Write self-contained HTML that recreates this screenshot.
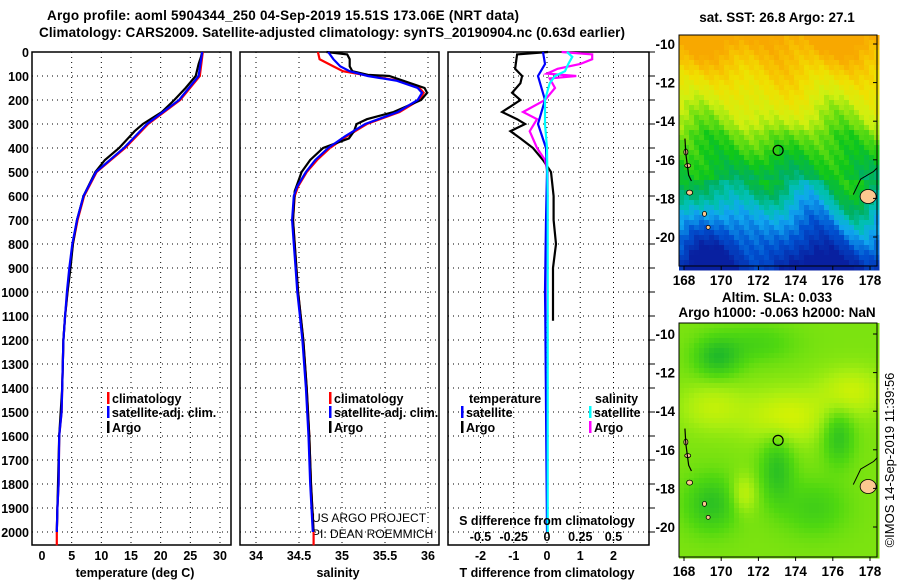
<!DOCTYPE html>
<html><head><meta charset="utf-8"><style>
html,body{margin:0;padding:0;background:#fff;}
svg{display:block;font-family:"Liberation Sans",Arial,sans-serif;}
.b{font-weight:bold;font-size:12.5px;}
.t{font-weight:bold;font-size:13.5px;}
</style></head><body>
<svg id="s" width="900" height="580" viewBox="0 0 900 580" xmlns="http://www.w3.org/2000/svg">
<text class="t" x="283" y="20" text-anchor="middle" textLength="472">Argo profile: aoml 5904344_250 04-Sep-2019 15.51S 173.06E (NRT data)</text>
<text class="t" x="332" y="37" text-anchor="middle" textLength="586">Climatology: CARS2009. Satellite-adjusted climatology: synTS_20190904.nc (0.63d earlier)</text>
<text class="t" x="777" y="22" text-anchor="middle">sat. SST: 26.8 Argo: 27.1</text>
<text class="t" x="777" y="302" text-anchor="middle">Altim. SLA: 0.033</text>
<text class="t" x="777" y="317" text-anchor="middle">Argo h1000: -0.063 h2000: NaN</text>
<text x="894" y="460" font-size="13" text-anchor="middle" transform="rotate(-90 894 460)">©IMOS 14-Sep-2019 11:39:56</text>
<text x="312" y="522" font-size="12">US ARGO PROJECT</text>
<text x="312" y="538" font-size="12">PI: DEAN ROEMMICH</text>
</svg>
<script>
// ---- data (depth in dbar) ----
const tClimDepth=[0,100,200,300,400,500,600,700,800,900,1000,1100,1200,1400,1500,1600,1800,1900,2000,2055];
const tClimVal=[27.1,26.6,23.3,17.9,14.0,9.2,7.1,6.0,5.2,4.7,4.3,3.9,3.6,3.4,3.3,2.9,2.8,2.6,2.5,2.5];
const tSatVal=[27.0,26.4,23.1,17.7,13.8,9.1,7.0,5.9,5.1,4.6,4.2,3.9,3.6,3.4,3.3,2.9,2.8,2.6,2.5,2.5];
const tArgoDepth=[0,20,50,100,150,200,250,300,330,400,450,500,600,700,800,900,1000,1100,1200,1400,1600,1800,2000];
const tArgoVal=[27.0,26.8,26.4,25.9,24.2,22.3,20.2,17.0,15.6,13.0,10.6,9.0,7.0,5.9,5.2,4.8,4.3,3.9,3.6,3.4,2.9,2.7,2.5];
const sClimDepth=[0,30,60,80,100,120,150,170,200,250,300,350,400,450,500,560,600,700,800,900,1000,1100,1200,1400,1600,1800,2000,2055];
const sClimVal=[34.72,34.74,34.9,35.01,35.33,35.67,35.9,35.95,35.9,35.67,35.29,35.06,34.86,34.71,34.59,34.49,34.45,34.43,34.45,34.47,34.49,34.52,34.55,34.59,34.62,34.64,34.67,34.67];
const sSatVal=[34.84,34.9,34.98,35.09,35.3,35.64,35.88,35.93,35.88,35.65,35.27,35.04,34.84,34.69,34.58,34.48,34.44,34.42,34.44,34.46,34.48,34.51,34.54,34.58,34.61,34.63,34.66,34.66];
const sArgoDepth=[0,10,30,60,80,95,100,150,170,200,250,280,300,330,360,400,450,500,580,700,900,1000,1100,1200,1400,1600,1800,2000];
const sArgoVal=[34.82,35.06,35.09,35.09,35.12,35.3,35.55,35.96,35.99,35.92,35.6,35.29,35.17,35.14,35.08,34.78,34.63,34.53,34.45,34.43,34.47,34.49,34.52,34.55,34.59,34.62,34.64,34.67];
const dTArgoDepth=[0,10,70,100,130,170,200,250,280,300,330,360,400,450,500,600,700,800,900,1000,1120];
const dTArgoVal=[0.03,-0.9,-0.96,-0.75,-0.8,-1.05,-0.8,-1.35,-0.9,-0.66,-1.1,-0.8,-0.42,-0.12,0.12,0.2,0.2,0.27,0.18,0.18,0.18];
const dTSatDepth=[0,50,100,200,300,400,500,700,1000,1100,2000];
const dTSatVal=[-0.12,-0.06,-0.27,-0.06,-0.27,-0.03,0.0,-0.03,-0.06,-0.05,0.0];
const dSArgoDepth=[0,10,30,50,70,90,100,110,150,200,250,280,330,400,450,500,1120];
const dSArgoVal=[0.11,0.34,0.34,0.25,0.08,0.0,0.22,0.02,0.06,-0.015,-0.18,-0.075,-0.13,-0.075,-0.015,0.005,0.0];
const dSSatDepth=[0,20,50,80,100,130,200,300,400,600,2000];
const dSSatVal=[0.15,0.19,0.16,0.135,0.06,0.02,-0.015,-0.015,0.0,0.005,0.005];
const depthTicks=[0,100,200,300,400,500,600,700,800,900,1000,1100,1200,1300,1400,1500,1600,1700,1800,1900,2000];
const tTicks=[0,5,10,15,20,25,30];
const sTicks=[34,34.5,35,35.5,36];
const dTTicks=[-2,-1,0,1,2];
const dSTicks=[-0.5,-0.25,0,0.25,0.5];
const lonTicks=[168,170,172,174,176,178];
const latTicks=[-10,-12,-14,-16,-18,-20];

const NS="http://www.w3.org/2000/svg";
const svg=document.getElementById('s');
function el(tag,attrs,parent,txt){const e=document.createElementNS(NS,tag);for(const k in attrs)e.setAttribute(k,attrs[k]);if(txt!==undefined)e.textContent=txt;(parent||svg).appendChild(e);return e;}
const TOP=52,BOT=545;
const yD=d=>TOP+d*0.24;
const xT=v=>42+v*5.933;
const xS=v=>256+(v-34)*86;
const xDT=v=>547+v*33.25;
const xDS=v=>547+v*133;

function panel(name,x0,x1,xTickVals,xFn){
  const g=el('g',{},svg);
  
  
  for(const d of depthTicks){if(d===0)continue;const l=el('line',{x1:x0,x2:x1,y1:yD(d),y2:yD(d),stroke:'#000','stroke-width':1,'stroke-dasharray':'1 4'},g);
    }
  for(const v of xTickVals){const X=xFn(v);const l=el('line',{x1:X,x2:X,y1:TOP,y2:BOT,stroke:'#000','stroke-width':1,'stroke-dasharray':'1 4'},g);
    }
  const r=el('rect',{x:x0,y:TOP,width:x1-x0,height:BOT-TOP,fill:'none',stroke:'#000','stroke-width':1.5},g);
  
  return g;
}
function line(g,name,depths,vals,xFn,color){
  const pts=depths.map((d,i)=>xFn(vals[i]).toFixed(1)+','+yD(d).toFixed(1)).join(' ');
  const p=el('polyline',{points:pts,fill:'none',stroke:color,'stroke-width':2.2},g);
  
}
function txt(s,x,y,cls,anchor,name){const t=el('text',{x:x,y:y,'class':cls,'text-anchor':anchor||'start'},svg,s);
  return t;}

const g1=panel('temperature-panel',32,231,tTicks.slice(1),xT);
line(g1,'temp-climatology-line',tClimDepth,tClimVal,xT,'#f00');
line(g1,'temp-argo-line',tArgoDepth,tArgoVal,xT,'#000');
line(g1,'temp-satellite-line',tClimDepth.slice(0,19),tSatVal.slice(0,19),xT,'#00f');
for(const d of depthTicks)txt(String(d),29,yD(d)+5,'b','end','depth-tick-label');
for(const v of tTicks)txt(String(v),xT(v),560,'b','middle','temp-tick-label');
txt('temperature (deg C)',135,577,'b','middle','temp-axis-title');

const g2=panel('salinity-panel',240,439,sTicks,xS);
line(g2,'sal-climatology-line',sClimDepth,sClimVal,xS,'#f00');
line(g2,'sal-argo-line',sArgoDepth,sArgoVal,xS,'#000');
line(g2,'sal-satellite-line',sClimDepth.slice(0,27),sSatVal.slice(0,27),xS,'#00f');
for(const v of sTicks)txt(String(v),xS(v),560,'b','middle','sal-tick-label');
txt('salinity',338,577,'b','middle','sal-axis-title');

const g3=panel('difference-panel',448,649,dTTicks,xDT);
line(g3,'dT-argo-line',dTArgoDepth,dTArgoVal,xDT,'#000');
line(g3,'dS-argo-line',dSArgoDepth,dSArgoVal,xDS,'#f0f');
line(g3,'dT-satellite-line',dTSatDepth,dTSatVal,xDT,'#00f');
line(g3,'dS-satellite-line',dSSatDepth,dSSatVal,xDS,'#0ff');
for(const d of depthTicks){const l=el('line',{x1:649,x2:655,y1:yD(d),y2:yD(d),stroke:'#000'},svg);}
for(const v of dTTicks)txt(String(v),xDT(v),560,'b','middle','dT-tick-label');
for(const v of dSTicks)txt(String(v),xDS(v),541,'b','middle','dS-tick-label');
txt('S difference from climatology',547,525,'b','middle','dS-axis-title');
txt('T difference from climatology',547,577,'b','middle','dT-axis-title');

function leg(x,y,c,label,name){const r=el('rect',{x:x,y:y-11,width:2.5,height:12,fill:c},svg);txt(label,x+5,y,'b','start',name);}
leg(107,403,'#f00','climatology','legend-climatology');
leg(107,417,'#00f','satellite-adj. clim.','legend-satellite');
leg(107,432,'#000','Argo','legend-argo');
leg(329,403,'#f00','climatology','legend-climatology-2');
leg(329,417,'#00f','satellite-adj. clim.','legend-satellite-2');
leg(329,432,'#000','Argo','legend-argo-2');
txt('temperature',469,403,'b','start','legend-temperature-header');
txt('salinity',595,403,'b','start','legend-salinity-header');
leg(461,417,'#00f','satellite','legend-t-satellite');
leg(461,432,'#000','Argo','legend-t-argo');
leg(589,417,'#0ff','satellite','legend-s-satellite');
leg(589,432,'#f0f','Argo','legend-s-argo');

// ---- maps ----
function lerp(a,b,t){return a+(b-a)*t;}
function hex(c){return [parseInt(c.slice(1,3),16),parseInt(c.slice(3,5),16),parseInt(c.slice(5,7),16)];}
function cmap(stops,v){v=Math.max(0,Math.min(1,v));for(let i=1;i<stops.length;i++){if(v<=stops[i][0]){const t=(v-stops[i-1][0])/(stops[i][0]-stops[i-1][0]);const a=hex(stops[i-1][1]),b=hex(stops[i][1]);return 'rgb('+Math.round(lerp(a[0],b[0],t))+','+Math.round(lerp(a[1],b[1],t))+','+Math.round(lerp(a[2],b[2],t))+')';}}return stops[stops.length-1][1];}
const sstStops=[[0,'#0820a0'],[0.14,'#0050d0'],[0.26,'#10a8f0'],[0.34,'#00c0b0'],[0.42,'#00b060'],[0.52,'#10c818'],[0.62,'#70e010'],[0.72,'#d0f010'],[0.84,'#f0e000'],[0.93,'#f8c000'],[1,'#f8a800']];
const slaStops=[[0,'#10b030'],[0.45,'#50d810'],[0.75,'#a8ee10'],[1,'#e0f400']];
function map(name,x0,y0,w,h,lat10y,lat20y,fieldFn,stops){
  const g=el('g',{},svg);
  const lx=lon=>684+(lon-168)*18.6;
  const ly=lat=>lat10y+(-10-lat)*(lat20y-lat10y)/10;
  const cs=5;
  for(let y=y0;y<y0+h;y+=cs)for(let x=x0;x<x0+w;x+=cs){
    const lon=168+(x+cs/2-684)/18.6, lat=-10-(y+cs/2-lat10y)*10/(lat20y-lat10y);
    el('rect',{x:x,y:y,width:cs+0.5,height:cs+0.5,fill:cmap(stops,fieldFn(lon,lat))},g);
  }
  const isl=[[168.1,-15.6,2,3],[168.2,-16.3,3,2],[168.3,-17.7,3,2.5],[169.1,-18.8,2,2.5],[169.3,-19.5,2,2],[177.9,-17.9,8,7]];
  for(const s of isl)el('ellipse',{cx:lx(s[0]),cy:ly(s[1]),rx:s[2],ry:s[3],fill:'#fcc890',stroke:'#000','stroke-width':0.8},g);
  el('polyline',{points:[[168.05,-14.9],[168.1,-15.7],[168.25,-16.8],[168.4,-17.1]].map(p=>lx(p[0])+','+ly(p[1])).join(' '),fill:'none',stroke:'#000','stroke-width':1.2},g);
  el('polyline',{points:[[177.1,-17.8],[177.5,-17.0],[178.2,-16.6],[178.4,-16.4]].map(p=>lx(p[0])+','+ly(p[1])).join(' '),fill:'none',stroke:'#000','stroke-width':1},g);
  const c=el('circle',{cx:lx(173.06),cy:ly(-15.51),r:5,fill:'none',stroke:'#000','stroke-width':1.2},g);
  
  el('rect',{x:x0,y:y0,width:w,height:h,fill:'none',stroke:'#000','stroke-width':1},g);
  for(const lon of lonTicks){el('line',{x1:lx(lon),x2:lx(lon),y1:y0+h,y2:y0+h+4,stroke:'#000'},g);txt(String(lon),lx(lon),y0+h+19,'t','middle','lon-tick-label');}
  for(const lat of latTicks){el('line',{x1:x0+w,x2:x0+w-4,y1:ly(lat),y2:ly(lat),stroke:'#000'},g);txt(String(lat),675,ly(lat)+5,'t','end','lat-tick-label');}
}
map('sst-map',679,35,198,231,44,237,(lon,lat)=>{
  let v;
  if(lat>-14.5) v=1-(-10-lat)/4.5*0.36;
  else if(lat>-17.3) v=0.62-(-14.5-lat)/2.8*0.2;
  else v=0.42-(-17.3-lat)/4.2*0.42;
  v+=0.04*Math.sin(lon*1.7+lat*0.9)+0.05*Math.sin(lon*0.9)*Math.cos(lat*0.7);
  if(lat<-17)v+=0.08*Math.sin((lon-171)*1.2);
  v+=0.025*Math.sin(lon*7.3+lat*5.1);
  return v;},sstStops);
map('sla-map',679,323,198,234,334,527,(lon,lat)=>{
  let v=0.6+0.35*Math.exp(-((lon-173.5)**2/5+(lat+14.3)**2/2))+0.25*Math.exp(-((lon-169.5)**2/3+(lat+13.8)**2/1.5))
   -0.45*Math.exp(-((lon-169.8)**2/1.5+(lat+11.2)**2/1))-0.4*Math.exp(-((lon-173)**2/0.8+(lat+17)**2/3))
   -0.4*Math.exp(-((lon-176.3)**2/0.7+(lat+15.3)**2/2))-0.4*Math.exp(-((lon-169.5)**2/2+(lat+18.8)**2/2))
   +0.3*Math.exp(-((lon-171.2)**2/0.5+(lat+18.3)**2/1))+0.3*Math.exp(-((lon-177)**2/3+(lat+13)**2/1.5))
   -0.25*Math.exp(-((lon-175)**2/3+(lat+19)**2/2))-0.2*Math.exp(-((lon-172)**2/4+(lat+10.5)**2/1));
  return v;},slaStops);
</script>
</body></html>
